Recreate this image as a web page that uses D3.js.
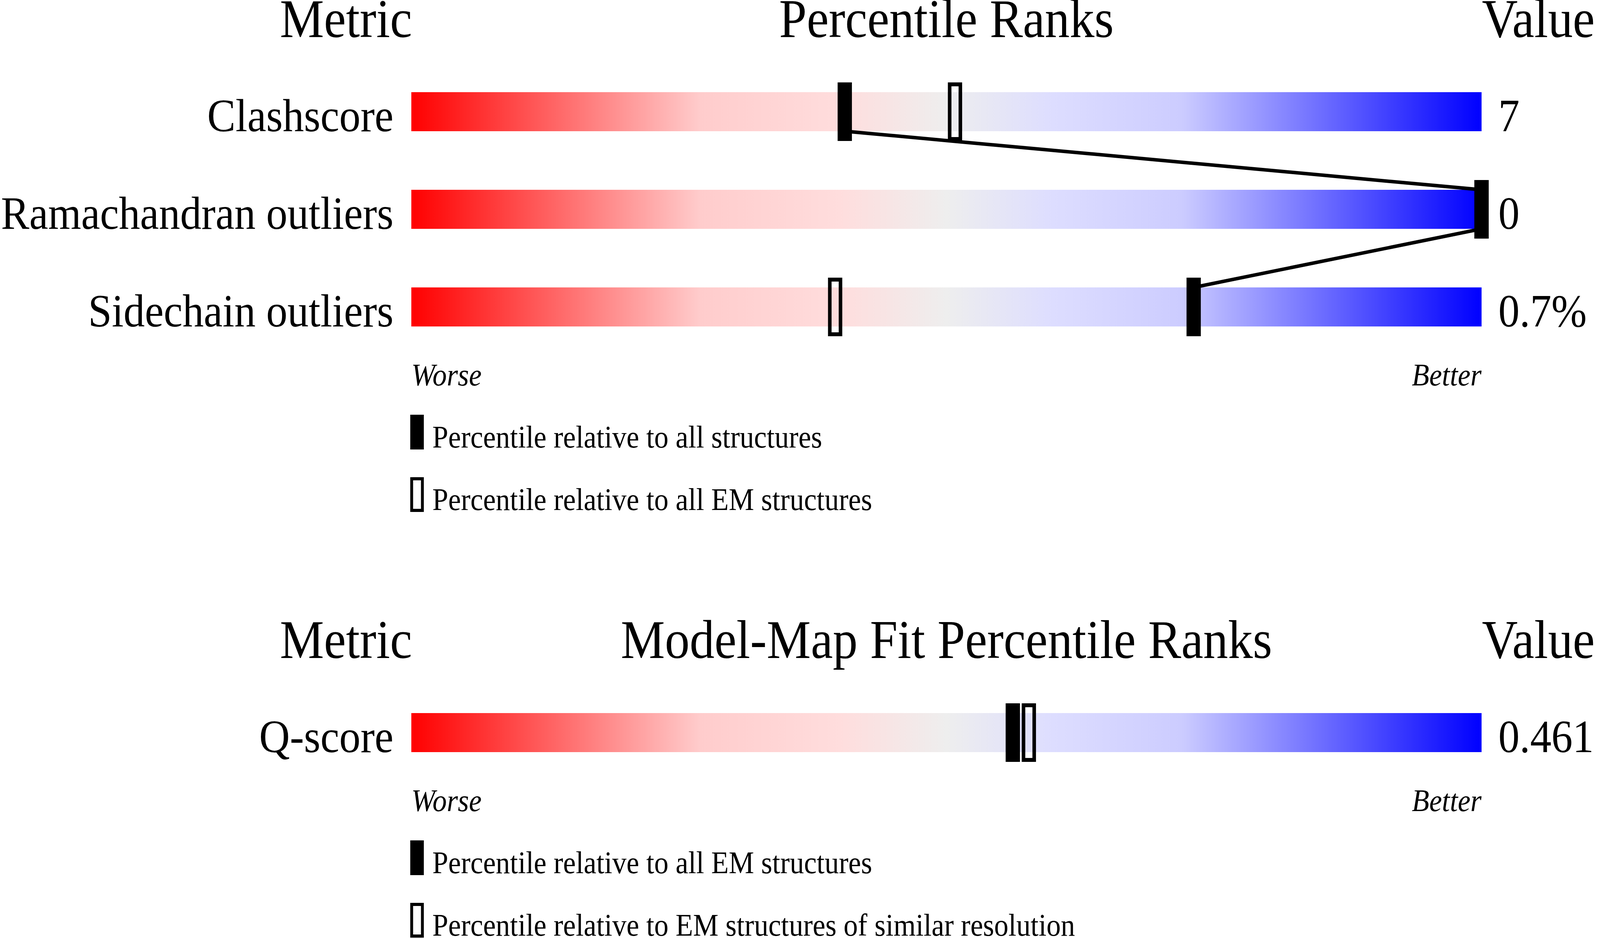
<!DOCTYPE html>
<html>
<head>
<meta charset="utf-8">
<script src="https://cdn.jsdelivr.net/npm/d3@7"></script>
<style>
  html, body { margin: 0; padding: 0; background: #ffffff; overflow: hidden; width: 100%; height: 100%; }
  svg { display: block; width: 100vw; height: 100vh; }
  text { font-family: "Liberation Serif", "Times New Roman", serif; fill: #000; }
</style>
</head>
<body>
<script>
// ---------- data ----------
const panelTitles = ["Percentile Ranks", "Model-Map Fit Percentile Ranks"];
const metrics1 = ["Clashscore", "Ramachandran outliers", "Sidechain outliers"];
const values1 = ["7", "0", "0.7%"];
const pctAll1 = [40.5, 100, 73.1];
const pctEM1 = [50.8, 100, 39.6];
const legend1 = ["Percentile relative to all structures", "Percentile relative to all EM structures"];

const metrics2 = ["Q-score"];
const values2 = ["0.461"];
const pctAll2 = [56.2];
const pctEM2 = [57.7];
const legend2 = ["Percentile relative to all EM structures", "Percentile relative to EM structures of similar resolution"];

const gradStops = [
  [0.00, "#ff0000"], [0.27, "#ffcccc"], [0.40, "#ffdddd"], [0.50, "#eeeeee"],
  [0.60, "#ddddff"], [0.72, "#ccccff"], [1.00, "#0000ff"]
];

// ---------- layout ----------
const W = 4485, H = 2402;
const barL = 1153, barR = 4153, barH = 100, rowStep = 250;
const markW = 30, markStroke = 10, markOver = 25;

const svg = d3.select("body").append("svg")
  .attr("viewBox", `0 0 ${W} ${H}`)
  .attr("preserveAspectRatio", "none");

const defs = svg.append("defs");
const grad = defs.append("linearGradient").attr("id", "rb")
  .attr("x1", "0%").attr("x2", "100%").attr("y1", "0%").attr("y2", "0%");
grad.selectAll("stop").data(gradStops).join("stop")
  .attr("offset", d => d[0]).attr("stop-color", d => d[1]);

const x = d3.scaleLinear().domain([0, 100]).range([barL, barR]);

function panel(top, title, metrics, values, pAll, pEM, legend) {
  const g = svg.append("g");
  const y = d3.scaleLinear().domain([0, 1]).range([top + 236, top + 236 + rowStep]);
  const idx = d3.range(metrics.length);

  // headers
  g.append("text").attr("x", barL + 2).attr("y", top + 95)
    .attr("text-anchor", "end").attr("font-size", 139).text("Metric");
  g.append("text").attr("x", (barL + barR) / 2).attr("y", top + 95)
    .attr("text-anchor", "middle").attr("font-size", 139).text(title);
  g.append("text").attr("x", barR + 1).attr("y", top + 95)
    .attr("text-anchor", "start").attr("font-size", 139).text("Value");

  // bars
  g.selectAll("rect.bar").data(idx).join("rect").attr("class", "bar")
    .attr("x", x(0)).attr("width", x(100) - x(0))
    .attr("y", i => y(i)).attr("height", barH)
    .attr("fill", "url(#rb)");

  // labels
  g.selectAll("text.lab").data(idx).join("text").attr("class", "lab")
    .attr("x", barL - 50).attr("y", i => y(i) + barH)
    .attr("text-anchor", "end").attr("font-size", 119)
    .text(i => metrics[i]);

  // values
  g.selectAll("text.val").data(idx).join("text").attr("class", "val")
    .attr("x", barR + 47).attr("y", i => y(i) + barH)
    .attr("text-anchor", "start").attr("font-size", 119)
    .text(i => values[i]);

  // hollow markers (EM)
  g.selectAll("rect.em").data(idx).join("rect").attr("class", "em")
    .attr("x", i => x(pEM[i]) - markW / 2)
    .attr("y", i => y(i) - markOver + markStroke / 2)
    .attr("width", markW).attr("height", barH + 2 * markOver - markStroke)
    .attr("fill", "none").attr("stroke", "#000").attr("stroke-width", markStroke);

  // connecting line
  if (metrics.length > 1) {
    const pts = [];
    idx.forEach(i => {
      if (i > 0) pts.push([x(pAll[i]), y(i)]);
      if (i < metrics.length - 1) pts.push([x(pAll[i]), y(i) + barH]);
    });
    g.append("path").attr("d", d3.line()(pts))
      .attr("fill", "none").attr("stroke", "#000").attr("stroke-width", 9)
      .attr("stroke-linejoin", "miter");
  }

  // filled markers (all)
  g.selectAll("rect.all").data(idx).join("rect").attr("class", "all")
    .attr("x", i => x(pAll[i]) - markW / 2)
    .attr("y", i => y(i) - markOver + markStroke / 2)
    .attr("width", markW).attr("height", barH + 2 * markOver - markStroke)
    .attr("fill", "#000").attr("stroke", "#000").attr("stroke-width", markStroke);

  const lastBottom = y(metrics.length - 1) + barH;

  // worse / better
  g.append("text").attr("x", barL).attr("y", lastBottom + 151)
    .attr("font-size", 80).attr("font-style", "italic").text("Worse");
  g.append("text").attr("x", barR).attr("y", lastBottom + 151)
    .attr("text-anchor", "end").attr("font-size", 80).attr("font-style", "italic").text("Better");

  // legend
  const ly = d3.scaleLinear().domain([0, 1]).range([lastBottom + 226, lastBottom + 386]);
  const li = d3.range(legend.length);
  g.selectAll("rect.leg").data(li).join("rect").attr("class", "leg")
    .attr("x", barL + 1).attr("y", i => ly(i) + 4)
    .attr("width", 30).attr("height", 81)
    .attr("fill", i => i === 0 ? "#000" : "none")
    .attr("stroke", "#000").attr("stroke-width", 8);
  g.selectAll("text.leg").data(li).join("text").attr("class", "leg")
    .attr("x", barL + 59).attr("y", i => ly(i) + 84)
    .attr("font-size", 80).text(i => legend[i]);
}

panel(0, panelTitles[0], metrics1, values1, pctAll1, pctEM1, legend1);
panel(1590, panelTitles[1], metrics2, values2, pctAll2, pctEM2, legend2);
</script>
</body>
</html>
